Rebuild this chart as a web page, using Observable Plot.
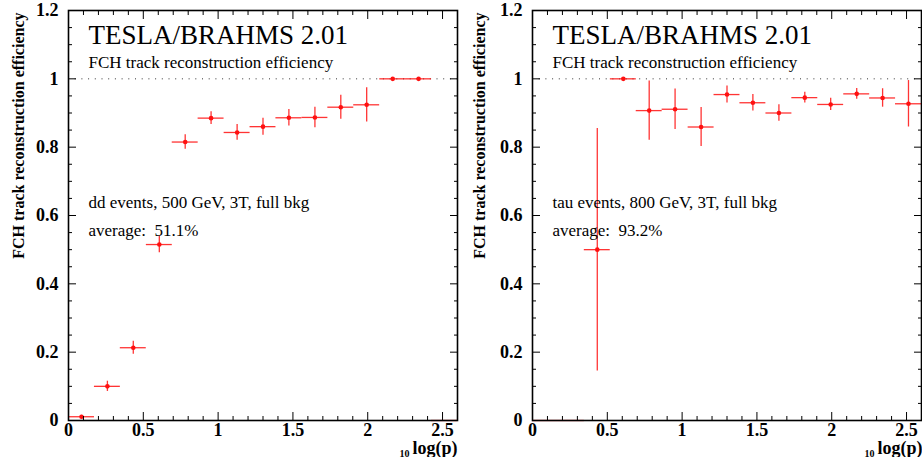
<!DOCTYPE html>
<html>
<head>
<meta charset="utf-8">
<script src="https://cdn.jsdelivr.net/npm/d3@7"></script>
<script src="https://cdn.jsdelivr.net/npm/@observablehq/plot@0.6"></script>
<style>
  html, body { margin: 0; padding: 0; background: #fff; }
  #wrap { display: flex; width: 922px; height: 457px; overflow: hidden; }
  svg text { white-space: pre; }
</style>
</head>
<body>
<div id="wrap"></div>
<script>
// ---- data ----
const binCenters = [0.087, 0.26, 0.433, 0.607, 0.78, 0.953, 1.127, 1.3, 1.473, 1.647, 1.82, 1.993, 2.167, 2.34, 2.513];
const binHalfWidth = 0.0867;

const ddEff = [0.011, 0.100, 0.213, 0.515, 0.815, 0.885, 0.843, 0.860, 0.886, 0.887, 0.917, 0.924, 1.0, 1.0, 0];
const ddErr = [0.004, 0.015, 0.019, 0.024, 0.021, 0.019, 0.023, 0.025, 0.024, 0.030, 0.035, 0.050, 0, 0, 0];

const tauEff = [0, 0, 0.500, 1.0, 0.907, 0.911, 0.859, 0.954, 0.930, 0.900, 0.945, 0.925, 0.956, 0.944, 0.927];
const tauErr = [0, 0, 0.355, 0, 0.087, 0.059, 0.057, 0.025, 0.024, 0.024, 0.016, 0.018, 0.016, 0.027, 0.068];

const yMajor = [0, 0.2, 0.4, 0.6, 0.8, 1, 1.2];
const xMajor = [0, 0.5, 1, 1.5, 2, 2.5];
const yMinor = d3.range(0, 24).map(i => i * 0.05).filter(v => Math.abs(v / 0.2 - Math.round(v / 0.2)) > 1e-6);
const xMinor = d3.range(1, 26).map(i => i * 0.1).filter(v => Math.abs(v / 0.5 - Math.round(v / 0.5)) > 1e-6);

const titleText = "TESLA/BRAHMS 2.01";
const subtitleText = "FCH track reconstruction efficiency";
const yLabel = "FCH track reconstruction efficiency";
const xLabel = "log(p)";
const xLabelSub = "10";

const panels = [
  {eff: ddEff, err: ddErr, info: "dd events, 500 GeV, 3T, full bkg", avg: "average:\u00a0 51.1%", marginLeft: 68, marginRight: 4, labelShift: 0},
  {eff: tauEff, err: tauErr, info: "tau events, 800 GeV, 3T, full bkg", avg: "average:\u00a0 93.2%", marginLeft: 71, marginRight: 1, labelShift: 1}
];

const RED = "#ff1010";
const FONT = "'Liberation Serif', 'Times New Roman', serif";

function makePanel(p) {
  const rows = binCenters.map((c, i) => ({c, lo: c - binHalfWidth, hi: c + binHalfWidth, v: p.eff[i], e: p.err[i]}));
  const tickCommon = {stroke: "#000", strokeWidth: 1, fill: "none", label: null};
  return Plot.plot({
    width: 461,
    height: 457,
    marginLeft: p.marginLeft,
    marginRight: p.marginRight,
    marginTop: 10,
    marginBottom: 37,
    style: {fontFamily: FONT, background: "#fff", overflow: "visible"},
    x: {domain: [0, 2.6]},
    y: {domain: [0, 1.2]},
    marks: [
      Plot.ruleY([1], {stroke: "#333", strokeDasharray: "1,5.7", strokeWidth: 1}),
      // horizontal bin-width bars
      Plot.ruleY(rows, {y: "v", x1: "lo", x2: "hi", stroke: RED, strokeWidth: 1.3, strokeOpacity: 0.85}),
      // vertical error bars
      Plot.ruleX(rows.filter(d => d.e > 0), {x: "c", y1: d => d.v - d.e, y2: d => d.v + d.e, stroke: RED, strokeWidth: 1.3, strokeOpacity: 0.85}),
      Plot.dot(rows.filter(d => d.v > 0), {x: "c", y: "v", r: 2.3, fill: RED, stroke: "none"}),
      // texts inside frame
      Plot.text([titleText], {frameAnchor: "top-left", dx: 20, dy: 33, textAnchor: "start", lineAnchor: "bottom", fontSize: 27, fill: "#000"}),
      Plot.text([subtitleText], {frameAnchor: "top-left", dx: 20, dy: 57, textAnchor: "start", lineAnchor: "bottom", fontSize: 17, fill: "#000"}),
      Plot.text([p.info], {frameAnchor: "top-left", dx: 20, dy: 197, textAnchor: "start", lineAnchor: "bottom", fontSize: 17, fill: "#000"}),
      Plot.text([p.avg], {frameAnchor: "top-left", dx: 20, dy: 225, textAnchor: "start", lineAnchor: "bottom", fontSize: 17, fill: "#000"}),
      // axis titles
      Plot.text([yLabel], {frameAnchor: "top-left", dx: 18 - p.marginLeft, dy: 2, rotate: -90, textAnchor: "end", lineAnchor: "middle", fontSize: 16, fontWeight: "bold", fill: "#000"}),
      Plot.text([xLabel], {frameAnchor: "bottom-right", dx: p.labelShift, dy: 33, textAnchor: "end", lineAnchor: "bottom", fontSize: 18, fontWeight: "bold", fill: "#000"}),
      Plot.text([xLabelSub], {frameAnchor: "bottom-right", dx: p.labelShift - 48, dy: 36, textAnchor: "end", lineAnchor: "bottom", fontSize: 10, fontWeight: "bold", fill: "#000"}),
      // tick labels
      Plot.axisY(yMajor, {anchor: "left", tickSize: 0, tickPadding: 10, fontSize: 18, fontWeight: "bold", fill: "#000", label: null, tickFormat: d3.format("~g")}),
      Plot.axisX(xMajor, {anchor: "bottom", tickSize: 0, tickPadding: 3, fontSize: 18, fontWeight: "bold", fill: "#000", label: null, tickFormat: d3.format("~g")}),
      // inward ticks: major
      Plot.axisY(yMajor, {anchor: "left", tickSize: 8, dx: 8, ...tickCommon}),
      Plot.axisY(yMajor, {anchor: "right", tickSize: 8, dx: -8, ...tickCommon}),
      Plot.axisX(xMajor, {anchor: "bottom", tickSize: 8, dy: -8, ...tickCommon}),
      Plot.axisX(xMajor, {anchor: "top", tickSize: 8, dy: 8, ...tickCommon}),
      // inward ticks: minor
      Plot.axisY(yMinor, {anchor: "left", tickSize: 4, dx: 4, ...tickCommon}),
      Plot.axisY(yMinor, {anchor: "right", tickSize: 4, dx: -4, ...tickCommon}),
      Plot.axisX(xMinor, {anchor: "bottom", tickSize: 4, dy: -4, ...tickCommon}),
      Plot.axisX(xMinor, {anchor: "top", tickSize: 4, dy: 4, ...tickCommon}),
      Plot.frame({stroke: "#000", strokeWidth: 1.6})
    ]
  });
}

const wrap = document.getElementById("wrap");
for (const p of panels) wrap.appendChild(makePanel(p));
</script>
</body>
</html>
